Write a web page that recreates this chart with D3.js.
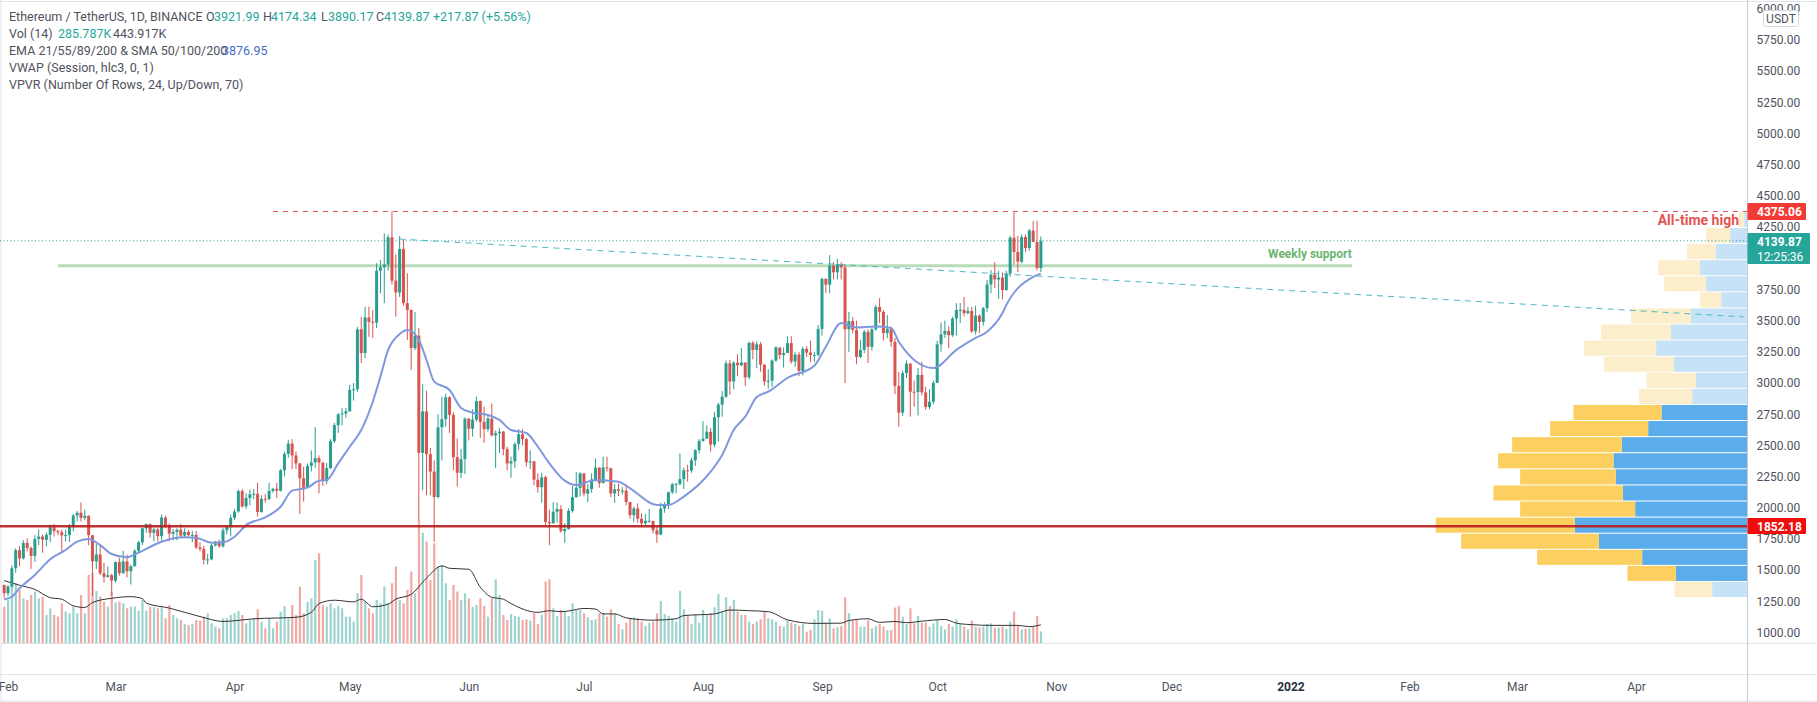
<!DOCTYPE html>
<html>
<head>
<meta charset="utf-8">
<script src="https://cdn.jsdelivr.net/npm/d3@7"></script>
<style>
html, body { margin: 0; padding: 0; background: #fff; }
svg { display: block; font-family: Roboto, sans-serif; }
</style>
</head>
<body>
<div id="contents"></div>
<script>
// daily candles, 31 Jan 2021 to 28 Oct 2021
const firstOpen = 1381;
const closes = [1314,
  1369,1515,1660,1594,1718,1677,1614,1750,1769,1743,1783,1843,1813,1804,1778,1781,1848,1938,1960,1919,1935,1780,1570,1625,1475,1446,1459,1416,
  1564,1475,1570,1491,1531,1655,1723,1835,1868,1799,1826,1772,1922,1856,1792,1806,1824,1777,1806,1781,1782,1682,1670,1583,1586,1699,1716,1691,1819,1846,1919,
  1970,2134,2011,2078,2107,2112,1966,2071,2070,2135,2152,2137,2300,2432,2514,2419,2355,2237,2161,2335,2363,2398,2363,2214,2318,2534,2662,2748,2756,2773,
  2945,2950,3430,3240,3525,3490,3483,3900,3928,3950,4168,3820,3725,4075,3640,3585,3280,3380,2440,2772,2430,2290,2086,2645,2710,2886,2745,2406,2280,2390,2714,
  2633,2706,2855,2688,2630,2715,2580,2598,2610,2470,2355,2372,2510,2590,2550,2365,2372,2225,2165,2245,1886,1875,1968,1990,1812,1830,1975,2085,2160,2275,
  2113,2150,2227,2321,2198,2323,2317,2115,2148,2136,2137,2046,1940,1994,1912,1875,1895,1895,1820,1785,1993,2027,2124,2188,2191,2230,2300,2298,2380,2462,2535,
  2554,2609,2506,2725,2827,2890,3157,3012,3163,3142,3164,3045,3322,3265,3310,3147,3012,3018,3180,3285,3224,3240,3320,3172,3228,3096,3274,3244,3225,3225,3433,
  3834,3788,3940,3887,3951,3926,3431,3496,3426,3208,3265,3410,3290,3430,3610,3570,3400,3432,3330,2977,2762,3080,3155,2930,2927,3065,2925,2807,2850,3000,
  3310,3390,3418,3383,3516,3585,3587,3560,3577,3414,3540,3490,3600,3790,3868,3830,3845,3745,3878,4165,4050,3972,4170,4082,4222,4130,3921.99,4139.87];
const highs = [1383,
  1380,1540,1675,1695,1740,1755,1690,1780,1825,1785,1800,1865,1870,1825,1825,1825,1870,1950,1975,2042,1985,1940,1780,1710,1695,1560,1530,1470,
  1570,1600,1655,1625,1545,1668,1733,1840,1875,1875,1840,1840,1945,1935,1875,1830,1835,1870,1835,1820,1815,1815,1725,1695,1630,1710,1735,1745,1840,1860,1945,
  1990,2145,2150,2115,2145,2150,2200,2100,2110,2200,2160,2200,2310,2450,2545,2550,2450,2360,2330,2355,2460,2645,2420,2360,2360,2550,2680,2760,2800,2800,
  2985,3000,3450,3530,3610,3612,3585,3960,3985,4200,4190,4375,4030,4178,4147,3880,3590,3570,3440,2990,2938,2480,2380,2750,2890,2915,2895,2765,2555,2470,2725,
  2720,2790,2891,2860,2810,2745,2835,2620,2640,2615,2490,2410,2525,2630,2630,2560,2460,2375,2275,2280,2255,1985,2045,2040,2020,1875,1995,2175,2285,2285,
  2275,2190,2275,2395,2325,2410,2410,2320,2190,2195,2165,2185,2045,2010,2035,1955,1950,1990,1895,1845,2040,2045,2130,2200,2200,2435,2320,2345,2400,2470,2550,
  2695,2660,2640,2765,2840,2935,3180,3185,3175,3230,3280,3165,3330,3335,3335,3330,3150,3110,3190,3295,3275,3285,3375,3375,3250,3250,3290,3295,3340,3250,3465,
  3845,3840,4025,3970,3995,3970,3950,3570,3530,3500,3345,3425,3430,3440,3625,3680,3585,3545,3450,3360,3090,3100,3180,3160,3020,3120,3170,2970,2950,3020,
  3340,3485,3500,3455,3530,3640,3640,3690,3610,3610,3620,3550,3610,3825,3905,3970,3900,3885,3900,4180,4375,4180,4190,4190,4235,4300,4300,4174.34];
const lows = [1275,
  1290,1360,1480,1530,1585,1650,1510,1565,1700,1640,1690,1725,1770,1780,1650,1730,1725,1810,1890,1890,1900,1700,1293,1510,1460,1400,1440,1293,
  1400,1455,1472,1442,1385,1528,1634,1700,1800,1760,1730,1730,1730,1835,1730,1740,1740,1760,1765,1770,1725,1670,1650,1545,1545,1580,1690,1680,1680,1785,1770,
  1900,1960,2000,1990,2020,2070,1930,1960,2040,2060,2120,2080,2130,2250,2400,2310,2310,1950,2050,2160,2290,2320,2115,2175,2190,2310,2520,2600,2660,2720,
  2770,2860,2930,3160,3200,3370,3360,3440,3720,3640,3900,3790,3530,3690,3620,3345,3105,3265,1900,2140,2100,2100,1728,2075,2380,2650,2600,2300,2170,2240,2270,
  2540,2570,2690,2560,2520,2610,2570,2320,2440,2420,2300,2240,2320,2465,2500,2330,2310,2180,2120,2040,1860,1700,1875,1880,1800,1718,1825,1960,2080,2090,
  2090,2045,2120,2210,2160,2195,2290,2085,2040,2095,2105,2020,1910,1885,1880,1855,1855,1880,1795,1718,1780,1960,1990,2110,2115,2180,2150,2210,2280,2335,2435,
  2530,2555,2450,2485,2530,2730,2880,2905,2950,3055,3135,2975,3030,3190,3120,3090,2980,2955,2970,3170,3190,3125,3240,3155,3130,3055,3060,3210,3165,3170,3215,
  3380,3720,3720,3830,3830,3830,3000,3250,3400,3150,3200,3240,3160,3260,3420,3480,3340,3360,3290,2910,2650,2735,3040,2730,2810,2740,2900,2785,2790,2830,
  3000,3250,3360,3280,3370,3380,3480,3535,3550,3400,3390,3400,3460,3570,3720,3760,3675,3670,3740,3850,3950,3890,3960,4050,4060,4130,3905,3890.17];
// thousands
const volumes = [880,1040,1360,1440,1280,1080,1040,1160,1240,1080,1120,680,840,680,640,960,760,720,880,720,1160,720,1640,1680,1256,1120,1000,880,1240,
  984,1000,960,840,880,880,784,1040,784,880,864,840,864,600,920,680,600,560,464,440,464,560,544,640,720,480,400,360,600,600,680,
  720,776,680,480,560,600,816,520,360,600,360,520,760,896,600,920,680,1360,720,1000,1080,2000,2160,920,880,960,840,896,840,640,
  640,520,1200,1640,1000,840,720,1040,960,1360,960,1440,1840,1040,960,1280,1720,1200,2960,2656,2440,1520,2400,1840,1880,1440,1040,1400,1240,1040,1200,
  1080,880,920,1080,896,640,1080,1536,1160,680,560,704,656,640,560,576,544,720,464,680,1480,1536,840,656,800,760,656,960,800,
  800,720,624,560,576,720,720,640,816,720,464,336,496,600,624,600,520,416,496,520,720,1016,704,656,600,520,1256,816,680,464,680,
  496,800,680,720,864,1184,760,1104,896,1040,760,680,680,520,464,520,576,760,600,576,520,416,400,560,496,464,416,464,280,320,576,
  800,784,496,600,360,384,416,1104,720,560,560,400,400,544,360,416,464,400,320,320,856,896,640,464,840,480,656,496,496,400,
  480,560,416,336,464,400,576,464,400,336,544,400,384,400,464,480,376,376,400,344,520,760,440,336,352,352,416,656,285.787];

const emaDays = [0,2,4,8,12,16,19,22,25,28,32,35,41,47,50,54,57,60,63,68,72,75,79,82,84,87,90,93,96,98,100,103,105,108,110,112,116,119,122,126,129,132,136,139,142,146,149,154,160,163,170,173,177,184,187,190,193,196,199,204,211,214,218,222,227,231,233,242,248,253,256,260,261,268,270];
const emaValues = [1265,1287,1354,1461,1587,1661,1728,1750,1701,1629,1603,1640,1728,1763,1760,1720,1723,1768,1861,1923,2008,2137,2161,2217,2222,2356,2489,2623,2850,3051,3265,3393,3425,3345,3184,3011,2944,2800,2762,2744,2704,2623,2599,2489,2356,2217,2182,2222,2209,2156,2022,2022,2089,2289,2423,2623,2730,2888,2930,3040,3139,3291,3480,3444,3452,3441,3331,3120,3265,3361,3411,3561,3625,3850,3876.95];

const volMaDays = [0,4,8,12,15,18,21,23,28,33,36,37,43,51,57,65,76,80,82,86,91,93,96,100,102,106,110,114,116,121,124,127,130,132,139,142,145,147,151,154,156,159,162,169,175,177,185,189,194,199,204,211,218,220,225,228,232,235,239,245,248,252,257,264,267,270];
const volMaValues = [1504,1394,1293,1095,1058,900,860,978,1081,1119,1072,964,846,642,524,588,625,743,954,1034,994,1058,877,940,1058,1175,1565,1857,1800,1777,1347,1105,1058,954,743,783,759,776,837,823,705,705,611,555,588,665,705,799,783,759,564,477,484,548,588,501,524,494,531,571,484,447,430,430,400,443.917];

// volume profile, rows from the bottom up
const vpRowLows = [1280,1409,1538,1667,1796,1925,2054,2183,2312,2441,2570,2699,2828,2957,3086,3215,3344,3473,3602,3731,3860,3989,4118,4247];
const vpRowTop = 4376;
const vpUp = [106,215,316,446,518,337,374,395,402,377,298,258,166,155,222,274,230,170,79,125,143,96,52,10];
const vpDown = [113,145,315,413,417,345,388,287,346,329,294,264,159,148,209,216,210,179,64,125,125,85,72,17];
const vpValueArea = [1, 11];

const priceTicks = [1000,1250,1500,1750,2000,2250,2500,2750,3000,3250,3500,3750,4250,4500,4750,5000,5250,5500,5750,6000];
const timeTicks = ["2021-02-01","2021-03-01","2021-04-01","2021-05-01","2021-06-01","2021-07-01","2021-08-01","2021-09-01","2021-10-01","2021-11-01","2021-12-01","2022-01-01","2022-02-01","2022-03-01","2022-04-01"];
const timeLabels = ["Feb","Mar","Apr","May","Jun","Jul","Aug","Sep","Oct","Nov","Dec","2022","Feb","Mar","Apr"];

const athPrice = 4375.06, lastPrice = 4139.87, supportPrice = 1852.18, weeklyPrice = 3940;
const athDates = ["2021-04-11","2022-05-01"];
const weeklyDates = ["2021-02-14","2022-01-17"];
const trendDates = ["2021-05-14","2022-04-29"];
const trendPrices = [4154,3530];

const legendRows = [
  [["Ethereum / TetherUS, 1D, BINANCE", 9, "#50535e"], ["O", 206, "#50535e"], ["3921.99", 214, "#26a69a"], ["H", 263, "#50535e"], ["4174.34", 271, "#26a69a"], ["L", 321, "#50535e"], ["3890.17", 328, "#26a69a"], ["C", 376, "#50535e"], ["4139.87", 384, "#26a69a"], ["+217.87 (+5.56%)", 433, "#26a69a"]],
  [["Vol (14)", 9, "#50535e"], ["285.787K", 58, "#26a69a"], ["443.917K", 113, "#50535e"]],
  [["EMA 21/55/89/200 & SMA 50/100/200", 9, "#50535e"], ["3876.95", 222, "#4a6cc3"]],
  [["VWAP (Session, hlc3, 0, 1)", 9, "#50535e"]],
  [["VPVR (Number Of Rows, 24, Up/Down, 70)", 9, "#50535e"]]
];

const width = 1817, height = 702, plotRight = 1747.5, volBase = 643.3, axisTop = 674.5;
const parseDay = d3.utcParse("%Y-%m-%d");
const days = d3.utcDay.range(parseDay("2021-01-31"), parseDay("2021-10-29"));

const x = d3.scaleUtc().domain([parseDay("2021-02-01"), parseDay("2022-04-01")]).range([8, 1636]);
const y = d3.scaleLinear().domain([1000, 6000]).range([632.5, 8.75]);
const yVol = d3.scaleLinear().domain([0, 2400]).range([volBase, volBase - 100]);
const vpWidth = d3.scaleLinear().domain([0, 935]).range([0, 311.7]);

const svg = d3.select("#contents").append("svg").attr("width", width).attr("height", height);

svg.append("clipPath").attr("id", "clip")
  .append("rect").attr("x", 0).attr("y", 0).attr("width", plotRight).attr("height", volBase + 30);

// frame
const frameColor = "#e0e3eb";
[[0, 1.5, width, 1.5], [0, volBase, width, volBase], [0, axisTop, width, axisTop], [0, 701, width, 701], [1, 0, 1, height]].forEach(d => {
  svg.append("line").attr("x1", d[0]).attr("y1", d[1]).attr("x2", d[2]).attr("y2", d[3]).attr("stroke", frameColor);
});

const plot = svg.append("g").attr("clip-path", "url(#clip)");

// volume profile
const inArea = i => i >= vpValueArea[0] && i <= vpValueArea[1];
const rowTop = i => y(i + 1 < vpRowLows.length ? vpRowLows[i + 1] : vpRowTop);
const rowBottom = i => y(vpRowLows[i]);
const vp = plot.append("g");
vp.selectAll("rect.up").data(vpUp).join("rect").attr("class", "up")
  .attr("x", d => plotRight - vpWidth(d))
  .attr("width", d => vpWidth(d))
  .attr("y", (d, i) => rowTop(i) + 0.5)
  .attr("height", (d, i) => rowBottom(i) - rowTop(i) - 1)
  .attr("fill", (d, i) => inArea(i) ? "#5aadea" : "#c6e2f6");
vp.selectAll("rect.down").data(vpDown).join("rect").attr("class", "down")
  .attr("x", (d, i) => plotRight - vpWidth(vpUp[i]) - vpWidth(d))
  .attr("width", d => vpWidth(d))
  .attr("y", (d, i) => rowTop(i) + 0.5)
  .attr("height", (d, i) => rowBottom(i) - rowTop(i) - 1)
  .attr("fill", (d, i) => inArea(i) ? "#fbd060" : "#fdeecb");

// volume bars
const opens = closes.map((c, i) => i ? closes[i - 1] : firstOpen);
const isUp = i => closes[i] >= opens[i];
plot.append("g").selectAll("rect").data(volumes).join("rect")
  .attr("x", (d, i) => x(days[i]) - 1)
  .attr("width", 2.2)
  .attr("y", d => yVol(d))
  .attr("height", d => volBase - yVol(d))
  .attr("fill", (d, i) => isUp(i) ? "#9dd3ce" : "#f1a9a6");

// volume average
const volMaLine = d3.line().x(d => x(days[d])).y((d, i) => yVol(volMaValues[i])).curve(d3.curveMonotoneX);
plot.append("path").attr("d", volMaLine(volMaDays)).attr("fill", "none").attr("stroke", "#333").attr("stroke-width", 1);

// horizontal levels
const level = (dates, price, color, w, dash) => plot.append("line")
  .attr("x1", dates ? x(parseDay(dates[0])) : 0).attr("x2", dates ? x(parseDay(dates[1])) : plotRight)
  .attr("y1", y(price)).attr("y2", y(price))
  .attr("stroke", color).attr("stroke-width", w).attr("stroke-dasharray", dash || null);

level(null, lastPrice, "#26a69a", 1, "1 2.5");
level(weeklyDates, weeklyPrice, "#b9dcb8", 3);
level(athDates, athPrice, "#e0504e", 1, "5 5");

// candles
const candles = plot.append("g");
candles.selectAll("line").data(days).join("line")
  .attr("x1", d => x(d)).attr("x2", d => x(d))
  .attr("y1", (d, i) => y(highs[i])).attr("y2", (d, i) => y(lows[i]))
  .attr("stroke", (d, i) => isUp(i) ? "#2a9d8f" : "#d9534f").attr("stroke-width", 1);
candles.selectAll("rect").data(days).join("rect")
  .attr("x", d => x(d) - 1.5).attr("width", 3)
  .attr("y", (d, i) => y(Math.max(opens[i], closes[i])))
  .attr("height", (d, i) => Math.max(1, Math.abs(y(opens[i]) - y(closes[i]))))
  .attr("fill", (d, i) => isUp(i) ? "#2a9d8f" : "#d9534f");

// ema
const emaLine = d3.line().x(d => x(days[d])).y((d, i) => y(emaValues[i])).curve(d3.curveMonotoneX);
plot.append("path").attr("d", emaLine(emaDays)).attr("fill", "none").attr("stroke", "#7f98dd").attr("stroke-width", 2);

// trend line
plot.append("line")
  .attr("x1", x(parseDay(trendDates[0]))).attr("y1", y(trendPrices[0]))
  .attr("x2", x(parseDay(trendDates[1]))).attr("y2", y(trendPrices[1]))
  .attr("stroke", "#4fb8c4").attr("stroke-width", 1).attr("stroke-dasharray", "6 5");

// support line
level(null, supportPrice, "#b71c1c", 2.5).attr("opacity", 0.9);

// drawing labels
svg.append("text").attr("x", x(parseDay(weeklyDates[1]))).attr("y", y(weeklyPrice) - 8)
  .attr("text-anchor", "end").attr("font-size", 12).attr("font-weight", 700).attr("fill", "#6cb56f")
  .text("Weekly support");
svg.append("text").attr("x", 1739).attr("y", y(athPrice) + 14)
  .attr("text-anchor", "end").attr("font-size", 14).attr("font-weight", 700).attr("fill", "#e25552")
  .text("All-time high");

// axes
svg.append("line").attr("x1", plotRight).attr("x2", plotRight).attr("y1", 0).attr("y2", height).attr("stroke", "#c8cbd3");

const yAxis = svg.append("g").attr("transform", "translate(" + plotRight + ",0)")
  .call(d3.axisRight(y).tickValues(priceTicks).tickFormat(d3.format(".2f")).tickSize(0).tickPadding(9));
yAxis.select(".domain").remove();
yAxis.selectAll("text").attr("font-size", 12).attr("font-family", "Roboto, sans-serif").attr("fill", "#50535e");

const xAxis = svg.append("g").attr("transform", "translate(0," + axisTop + ")")
  .call(d3.axisBottom(x).tickValues(timeTicks.map(parseDay)).tickFormat((d, i) => timeLabels[i]).tickSize(0).tickPadding(8));
xAxis.select(".domain").remove();
xAxis.selectAll("text").attr("font-size", 12).attr("font-family", "Roboto, sans-serif")
  .attr("fill", (d, i) => timeLabels[i] === "2022" ? "#2a2e39" : "#50535e")
  .attr("font-weight", (d, i) => timeLabels[i] === "2022" ? 700 : 400);

// price tags
const tag = (price, x2, y1, y2, color, lines) => {
  svg.append("rect").attr("x", plotRight).attr("y", y1).attr("width", x2 - plotRight).attr("height", y2 - y1).attr("rx", 1).attr("fill", color);
  lines.forEach((t, i) => {
    svg.append("text").attr("x", plotRight + 9.5).attr("y", y1 + 12.5 + i * 15).attr("font-size", 12)
      .attr("font-weight", i ? 400 : 700).attr("fill", "#fff").text(t);
  });
};
tag(athPrice, 1806, 203, 220, "#f23b36", [d3.format(".2f")(athPrice)]);
tag(lastPrice, 1810, 233, 264, "#26a69a", [d3.format(".2f")(lastPrice), "12:25:36"]);
tag(supportPrice, 1806, 518, 534, "#f20d0d", [d3.format(".2f")(supportPrice)]);

// currency badge
svg.append("rect").attr("x", 1763.5).attr("y", 10.5).attr("width", 35).attr("height", 16).attr("rx", 2)
  .attr("fill", "#fff").attr("stroke", "#d6d8de");
svg.append("text").attr("x", 1781).attr("y", 22.5).attr("text-anchor", "middle").attr("font-size", 12).attr("fill", "#50535e").text("USDT");

// legend
legendRows.forEach((row, r) => {
  svg.append("g").selectAll("text").data(row).join("text")
    .attr("x", d => d[1])
    .attr("y", 21 + r * 17.1)
    .attr("font-size", 12.5)
    .attr("fill", d => d[2])
    .text(d => d[0]);
});
</script>
</body>
</html>
